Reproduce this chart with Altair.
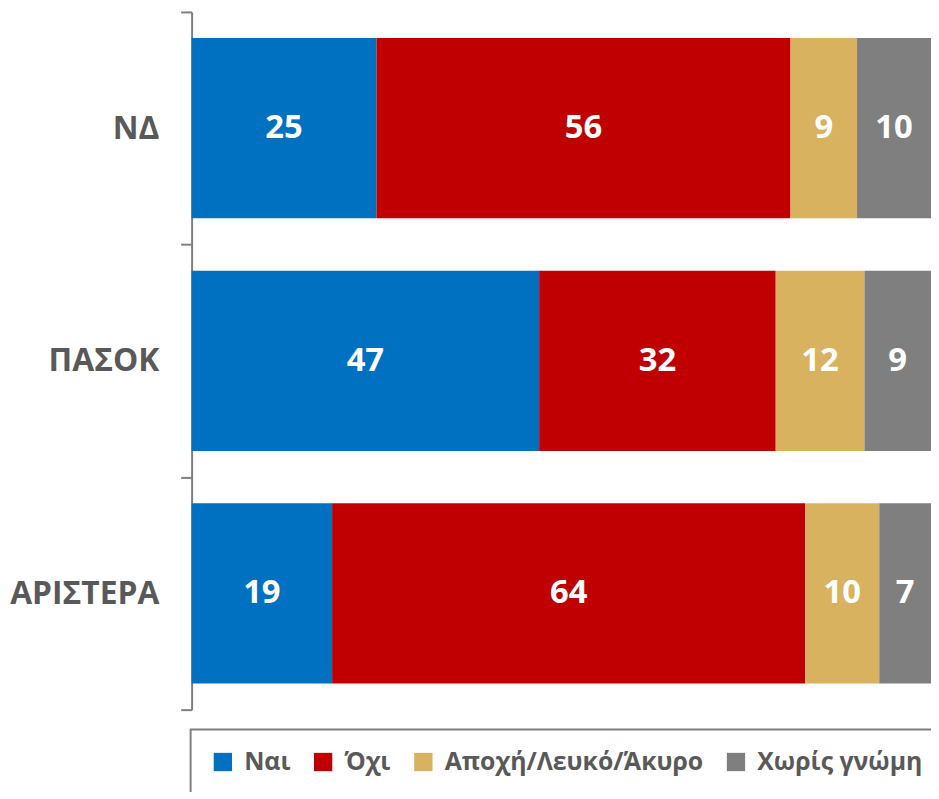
import altair as alt
import pandas as pd

categories = ["ΝΔ", "ΠΑΣΟΚ", "ΑΡΙΣΤΕΡΑ"]
series = ["Ναι", "Όχι", "Αποχή/Λευκό/Άκυρο", "Χωρίς γνώμη"]
values = {
    "Ναι": [25, 47, 19],
    "Όχι": [56, 32, 64],
    "Αποχή/Λευκό/Άκυρο": [9, 12, 10],
    "Χωρίς γνώμη": [10, 9, 7],
}
colors = ["#0070C0", "#C00000", "#D8B25E", "#7F7F7F"]

rows = []
for si, s in enumerate(series):
    for ci, c in enumerate(categories):
        rows.append({"cat": c, "series": s, "order": si, "value": values[s][ci]})
df = pd.DataFrame(rows)

FONT = "Open Sans"

base = alt.Chart(df).transform_stack(
    stack="value", groupby=["cat"], as_=["x0", "x1"],
    sort=[alt.SortField("order", order="ascending")]
).transform_calculate(mid="(datum.x0 + datum.x1) / 2")

y_enc = alt.Y("cat:N", sort=categories, title=None,
              scale=alt.Scale(paddingInner=0, paddingOuter=0),
              axis=alt.Axis(tickBand="extent", domainColor="#7F7F7F", domainWidth=2,
                            tickColor="#7F7F7F", tickWidth=2, tickSize=11,
                            labelFont=FONT, labelFontSize=32, labelFontWeight="bold",
                            labelColor="#595959", labelPadding=22, labelLimit=0))

bars = base.mark_bar(height={"band": 0.775}).encode(
    y=y_enc,
    x=alt.X("x0:Q", scale=alt.Scale(domain=[0, 100], nice=False, zero=True), axis=None),
    x2="x1:Q",
    color=alt.Color("series:N", sort=series,
                    scale=alt.Scale(domain=series, range=colors),
                    legend=alt.Legend(title=None, orient="none", legendX=-1, legendY=723,
                                      direction="horizontal", strokeColor="#7F7F7F",
                                      padding=20, symbolType="square",
                                      symbolSize=340, symbolStrokeWidth=0, symbolOpacity=1,
                                      labelFont=FONT, labelFontSize=25, labelFontWeight="bold",
                                      labelColor="#595959", columnPadding=20, labelOffset=9,
                                      labelLimit=0)),
)

texts = base.mark_text(font=FONT, fontSize=33, fontWeight="bold", color="white").encode(
    y=alt.Y("cat:N", sort=categories),
    x=alt.X("mid:Q"),
    text=alt.Text("value:Q"),
)

chart = alt.layer(bars, texts).properties(
    width=745, height=703,
    autosize=alt.AutoSizeParams(type="none"),
    padding={"left": 185, "top": 1, "right": 0, "bottom": 80},
).configure_view(stroke=None).configure_legend(strokeWidth=2)

chart.save("out.html", embed_options={"renderer": "svg", "actions": False})
